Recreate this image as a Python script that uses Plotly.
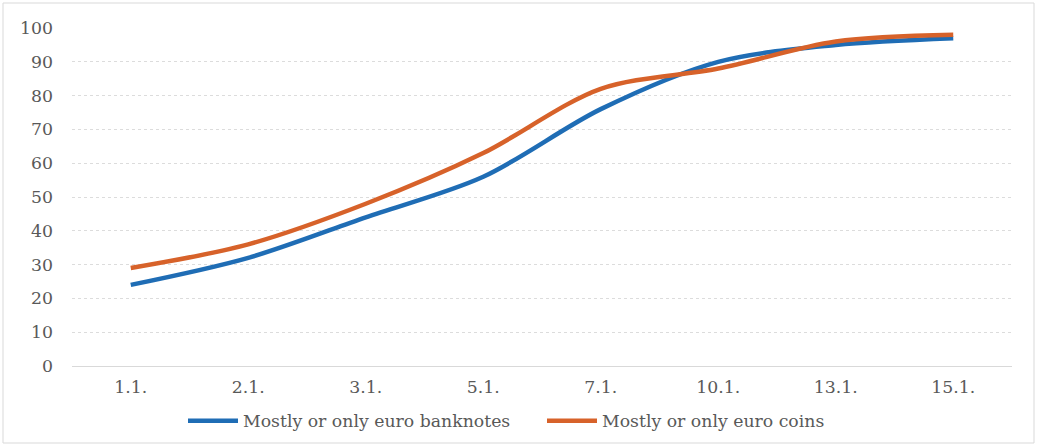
import plotly.graph_objects as go

categories = ["1.1.", "2.1.", "3.1.", "5.1.", "7.1.", "10.1.", "13.1.", "15.1."]
banknotes = [24, 32, 44, 56, 76, 90, 95, 97]
coins = [29, 36, 48, 63, 82, 88, 96, 98]
y_ticks = list(range(0, 101, 10))

W, H = 1037, 446
L, R, T, B = 72, 25, 28, 80
pw, ph = W - L - R, H - T - B

FONT = "DejaVu Serif"
GRAY = "#595959"
FS = 17.3

fig = go.Figure()
fig.add_trace(go.Scatter(x=categories, y=banknotes, mode="lines",
                         name="Mostly or only euro banknotes",
                         line=dict(color="#1f6db5", width=4.5, shape="spline", smoothing=0.9)))
fig.add_trace(go.Scatter(x=categories, y=coins, mode="lines",
                         name="Mostly or only euro coins",
                         line=dict(color="#d7622a", width=4.5, shape="spline", smoothing=0.9)))

def px_x(p):
    return (p - L) / pw

def px_y(p):
    return (H - B - p) / ph

fig.add_shape(type="rect", xref="paper", yref="paper",
              x0=px_x(3), x1=px_x(1034), y0=px_y(443), y1=px_y(3),
              line=dict(color="#d9d9d9", width=1), layer="below")

fig.update_layout(
    width=W, height=H,
    margin=dict(l=L, r=R, t=T, b=B, autoexpand=False),
    paper_bgcolor="white", plot_bgcolor="white",
    font=dict(family=FONT, size=FS, color=GRAY),
    showlegend=True,
    legend=dict(orientation="h", x=0.5, xanchor="center",
                yref="container", y=1 - 421 / H, yanchor="middle",
                font=dict(family=FONT, size=FS, color=GRAY), itemwidth=50,
                entrywidth=294, entrywidthmode="pixels",
                bgcolor="rgba(0,0,0,0)", traceorder="normal"),
    xaxis=dict(type="category", categoryorder="array", categoryarray=categories,
               range=[-0.5, len(categories) - 0.5],
               showgrid=False, showline=True, linecolor="#d9d9d9", linewidth=1,
               ticks="", ticklabelstandoff=5, zeroline=False, automargin=False,
               tickfont=dict(family=FONT, size=FS, color=GRAY)),
    yaxis=dict(range=[0, 100], tickvals=y_ticks, showgrid=True, gridcolor="#dcdcdc",
               griddash="dot", gridwidth=1, zeroline=False, showline=False,
               ticks="", ticklabelstandoff=18, automargin=False,
               tickfont=dict(family=FONT, size=FS, color=GRAY)),
)

fig.write_html("out.html")
